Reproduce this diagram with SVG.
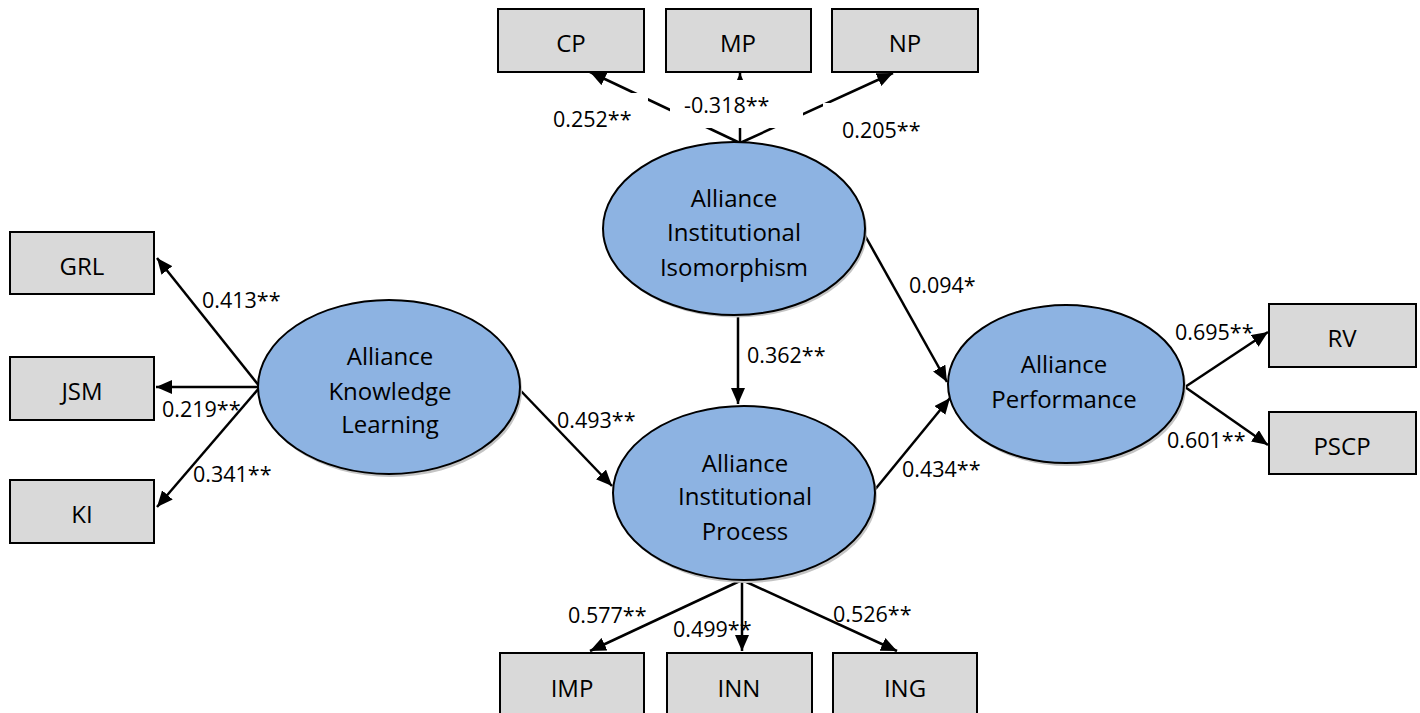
<svg xmlns="http://www.w3.org/2000/svg" width="1420" height="713" viewBox="0 0 1420 713">
<style>
.box{fill:#D9D9D9;stroke:#000;stroke-width:2}
.ell{fill:#8DB3E2;stroke:#000;stroke-width:2}
.shadow{fill:#c4c4c4}
.bt{font-family:"Open Sans","Liberation Sans",sans-serif;font-size:24px;fill:#000;text-anchor:middle}
.nt{font-family:"Open Sans","Liberation Sans",sans-serif;font-size:24px;fill:#000;text-anchor:middle}
.lt{font-family:"Open Sans","Liberation Sans",sans-serif;font-size:21.5px;fill:#000}
.cn{stroke:#000;stroke-width:2.5;fill:none;marker-end:url(#ah)}
.bg{fill:#fff}
</style>
<defs>
<marker id="ah" markerUnits="userSpaceOnUse" markerWidth="16" markerHeight="14" refX="16" refY="7" orient="auto">
<path d="M0,0 L16,7 L0,14 z" fill="#000"/>
</marker>
</defs>
<rect width="1420" height="713" fill="#fff"/>

<g id="connectors">
<line class="cn" x1="260" y1="387" x2="157" y2="258"/>
<line class="cn" x1="260" y1="387" x2="156" y2="387"/>
<line class="cn" x1="260" y1="387" x2="157" y2="507"/>
<line class="cn" x1="740" y1="143" x2="590" y2="72"/>
<line class="cn" x1="740" y1="143" x2="740" y2="73"/>
<line class="cn" x1="740" y1="143" x2="893" y2="73"/>
<line class="cn" x1="738" y1="314" x2="738" y2="404"/>
<line class="cn" x1="520" y1="390" x2="612" y2="486"/>
<line class="cn" x1="863" y1="232" x2="947" y2="382"/>
<line class="cn" x1="873" y1="492" x2="950" y2="398"/>
<line class="cn" x1="1185" y1="387" x2="1268" y2="332"/>
<line class="cn" x1="1185" y1="387" x2="1268" y2="445"/>
<line class="cn" x1="742" y1="580" x2="590" y2="651"/>
<line class="cn" x1="742" y1="580" x2="742" y2="651"/>
<line class="cn" x1="742" y1="580" x2="897" y2="651"/>
</g>

<g id="labels">
<rect class="bg" x="545" y="93" width="103" height="42"/>
<rect class="bg" x="670" y="80" width="133" height="48"/>
<rect class="bg" x="823" y="103" width="137" height="42"/>
<text class="lt" x="202" y="308">0.413**</text>
<text class="lt" x="162" y="417">0.219**</text>
<text class="lt" x="193" y="482">0.341**</text>
<text class="lt" x="553" y="127">0.252**</text>
<text class="lt" x="684" y="113">-0.318**</text>
<text class="lt" x="842" y="138">0.205**</text>
<text class="lt" x="747" y="363">0.362**</text>
<text class="lt" x="557" y="428">0.493**</text>
<text class="lt" x="902" y="477">0.434**</text>
<text class="lt" x="909" y="293">0.094*</text>
<text class="lt" x="1175" y="340">0.695**</text>
<text class="lt" x="1167" y="448">0.601**</text>
<text class="lt" x="568" y="623">0.577**</text>
<text class="lt" x="673" y="637">0.499**</text>
<text class="lt" x="833" y="622">0.526**</text>
</g>

<g id="GRL"><rect class="box" x="10" y="232" width="144" height="62"/><text class="bt" x="82" y="275">GRL</text></g>
<g id="JSM"><rect class="box" x="10" y="357" width="144" height="63"/><text class="bt" x="82" y="400">JSM</text></g>
<g id="KI"><rect class="box" x="10" y="480" width="144" height="63"/><text class="bt" x="82" y="523">KI</text></g>
<g id="CP"><rect class="box" x="498" y="9" width="146" height="63"/><text class="bt" x="571" y="52">CP</text></g>
<g id="MP"><rect class="box" x="666" y="9" width="145" height="63"/><text class="bt" x="738" y="52">MP</text></g>
<g id="NP"><rect class="box" x="832" y="9" width="146" height="63"/><text class="bt" x="905" y="52">NP</text></g>
<g id="IMP"><rect class="box" x="500" y="653" width="144" height="64"/><text class="bt" x="572" y="697">IMP</text></g>
<g id="INN"><rect class="box" x="667" y="653" width="145" height="64"/><text class="bt" x="739" y="697">INN</text></g>
<g id="ING"><rect class="box" x="833" y="653" width="144" height="64"/><text class="bt" x="905" y="697">ING</text></g>
<g id="RV"><rect class="box" x="1269" y="304" width="147" height="63"/><text class="bt" x="1342" y="347">RV</text></g>
<g id="PSCP"><rect class="box" x="1269" y="412" width="147" height="62"/><text class="bt" x="1342" y="455">PSCP</text></g>

<g id="AII">
<ellipse class="shadow" cx="736" cy="231" rx="131" ry="86.5"/>
<ellipse class="ell" cx="734" cy="228.5" rx="131" ry="86.5"/>
<text class="nt" x="734" y="207">Alliance</text>
<text class="nt" x="734" y="241">Institutional</text>
<text class="nt" x="734" y="276">Isomorphism</text>
</g>
<g id="AKL">
<ellipse class="shadow" cx="391" cy="390" rx="131" ry="87"/>
<ellipse class="ell" cx="389" cy="387" rx="131" ry="87"/>
<text class="nt" x="390" y="365">Alliance</text>
<text class="nt" x="390" y="400">Knowledge</text>
<text class="nt" x="390" y="433">Learning</text>
</g>
<g id="AIP">
<ellipse class="shadow" cx="746" cy="496" rx="131" ry="87"/>
<ellipse class="ell" cx="744" cy="493" rx="131" ry="87"/>
<text class="nt" x="745" y="472">Alliance</text>
<text class="nt" x="745" y="505">Institutional</text>
<text class="nt" x="745" y="540">Process</text>
</g>
<g id="AP">
<ellipse class="shadow" cx="1068" cy="387" rx="118" ry="79"/>
<ellipse class="ell" cx="1066" cy="384" rx="118" ry="79"/>
<text class="nt" x="1064" y="373">Alliance</text>
<text class="nt" x="1064" y="408">Performance</text>
</g>
</svg>
